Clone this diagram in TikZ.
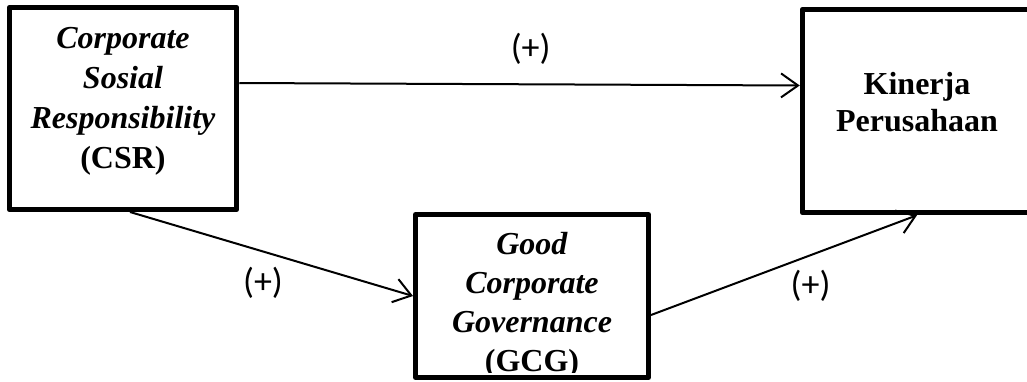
\documentclass[tikz,border=0pt]{standalone}
\usepackage{fontspec}
\setmainfont{Liberation Serif}
\newfontfamily\signfont{Carlito}
\usetikzlibrary{arrows.meta,positioning,calc}

\tikzset{
  varbox/.style={draw, rectangle, line width=5pt, line join=round, inner sep=0pt},
  vartext/.style={align=center, font=\bfseries\fontsize{32}{40}\selectfont},
  link/.style={line width=2pt, -{Straight Barb[length=17pt,width=24pt]}},
  sign/.style={font=\signfont\fontsize{36}{40}\selectfont}
}

\begin{document}
\begin{tikzpicture}[x=1pt,y=-1pt]
\useasboundingbox (0,0) rectangle (1027,381);
\node[varbox, minimum width=227.5pt, minimum height=202pt] (CSR) at (123,108.5) {};
\node[varbox, minimum width=229.5pt, minimum height=203.5pt] (Kinerja) at (917,111) {};
\node[varbox, minimum width=233pt, minimum height=163pt] (GCG) at (532,296) {};
\node[vartext] (CSRtext) at ([yshift=7.5pt]CSR.center) {\textit{Corporate}\\\textit{Sosial}\\\textit{Responsibility}\\(CSR)};
\node[vartext, font=\bfseries\fontsize{32}{37}\selectfont] (Kinerjatext) at ([yshift=9pt]Kinerja.center) {Kinerja\\Perusahaan};
\begin{scope}
\clip (GCG.north west) rectangle ([yshift=8pt]GCG.south east);
\node[vartext, font=\bfseries\fontsize{32}{39}\selectfont] (GCGtext) at ([yshift=-9pt]GCG.center) {\textit{Good}\\\textit{Corporate}\\\textit{Governance}\\(GCG)};
\end{scope}
\draw[link] ([yshift=25.5pt]CSR.east) -- ([yshift=25.5pt]Kinerja.west) node[sign, pos=0.52, yshift=35pt] (s1) {(+)};
\draw[link] ([xshift=7pt]CSR.south) -- (GCG.west) node[sign, pos=0.47, yshift=-31pt] (s2) {(+)};
\draw[link] ([yshift=-19pt]GCG.east) -- (Kinerja.south) node[sign, pos=0.6, yshift=-31pt] (s3) {(+)};
\end{tikzpicture}
\end{document}
